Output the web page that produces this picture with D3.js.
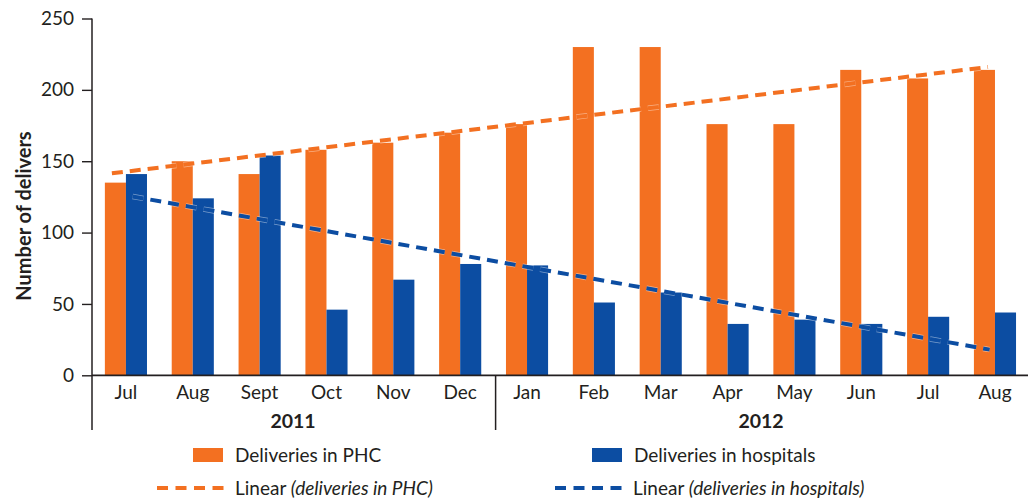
<!DOCTYPE html>
<html>
<head>
<meta charset="utf-8">
<script src="https://cdn.jsdelivr.net/npm/d3@7"></script>
<style>
  html, body { margin: 0; padding: 0; background: #fff; }
  svg { display: block; font-family: "Lato", "Open Sans", sans-serif; }
</style>
</head>
<body>
<svg id="chart" width="1031" height="500"></svg>
<script>
// Monthly deliveries, Jul 2011 – Aug 2012
const months = ["Jul", "Aug", "Sept", "Oct", "Nov", "Dec", "Jan", "Feb", "Mar", "Apr", "May", "Jun", "Jul", "Aug"];
const years = [
  { label: "2011", from: 0, to: 5 },
  { label: "2012", from: 6, to: 13 }
];
const phcDeliveries = [135, 150, 141, 158, 163, 170, 176, 230, 230, 176, 176, 214, 208, 214];
const hospitalDeliveries = [141, 124, 154, 46, 67, 78, 77, 51, 58, 36, 39, 36, 41, 44];
// Linear trend lines: value where each line starts and ends
const phcTrend = [141.5, 216];
const hospitalTrend = [125.3, 18];
const yTicks = [0, 50, 100, 150, 200, 250];

const ORANGE = "#f37021";
const BLUE = "#0c4da2";
const INK = "#231f20";
const FONT = "Lato, sans-serif";

const svg = d3.select("#chart");

const x = d3.scaleBand()
  .domain(d3.range(months.length))
  .range([92.5, 1028.4])
  .padding(0);
const step = x.step();
const barW = step * 0.315;
const cx = i => x(i) + step / 2;

const y = d3.scaleLinear().domain([0, 250]).range([375.3, 18.5]);

// Bars
const bars = svg.append("g");
bars.selectAll("rect.phc")
  .data(phcDeliveries)
  .join("rect")
  .attr("class", "phc")
  .attr("x", (d, i) => cx(i) - barW)
  .attr("y", d => y(d))
  .attr("width", barW)
  .attr("height", d => y(0) - y(d))
  .attr("fill", ORANGE);
bars.selectAll("rect.hosp")
  .data(hospitalDeliveries)
  .join("rect")
  .attr("class", "hosp")
  .attr("x", (d, i) => cx(i))
  .attr("y", d => y(d))
  .attr("width", barW)
  .attr("height", d => y(0) - y(d))
  .attr("fill", BLUE);

// Trend lines (dashed), each spanning its own series
const last = months.length - 1;
function trend(vals, color, f0, f1) {
  const pts = [[x(0) + f0 * step, y(vals[0])], [x(last) + f1 * step, y(vals[1])]];
  const line = d3.line();
  svg.append("path").attr("d", line(pts))
    .attr("stroke", "#fff").attr("stroke-opacity", 0.45)
    .attr("stroke-width", 5.5).attr("stroke-dasharray", "11,7")
    .attr("fill", "none");
  svg.append("path").attr("d", line(pts))
    .attr("stroke", color).attr("stroke-width", 4)
    .attr("stroke-dasharray", "11,7").attr("fill", "none");
}
trend(phcTrend, ORANGE, 0.29, 0.395);
trend(hospitalTrend, BLUE, 0.60, 0.42);

// Y axis
const yAxis = svg.append("g")
  .attr("transform", "translate(92,0)")
  .call(d3.axisLeft(y).tickValues(yTicks).tickSize(10).tickPadding(8));
yAxis.select(".domain").remove();
yAxis.selectAll(".tick line").attr("stroke", INK).attr("stroke-width", 1.4);
yAxis.selectAll(".tick text")
  .attr("fill", INK).attr("font-size", 19).attr("font-family", FONT);

svg.append("line")
  .attr("x1", 92).attr("x2", 92).attr("y1", y(250)).attr("y2", 430)
  .attr("stroke", INK).attr("stroke-width", 1.5);

// X axis
const xAxis = svg.append("g")
  .attr("transform", `translate(0,${y(0)})`)
  .call(d3.axisBottom(x).tickFormat(i => months[i]).tickSize(0).tickPadding(10));
xAxis.select(".domain").remove();
xAxis.selectAll(".tick text")
  .attr("fill", INK).attr("font-size", 19).attr("font-family", FONT);

svg.append("line")
  .attr("x1", 92).attr("x2", 1028).attr("y1", y(0)).attr("y2", y(0))
  .attr("stroke", INK).attr("stroke-width", 1.8);

// Year groups
svg.append("line")
  .attr("x1", x(years[1].from) + 2).attr("x2", x(years[1].from) + 2)
  .attr("y1", y(0)).attr("y2", 430)
  .attr("stroke", INK).attr("stroke-width", 1.5);
svg.selectAll("text.year")
  .data(years)
  .join("text")
  .attr("class", "year")
  .attr("x", d => (x(d.from) + x(d.to) + step) / 2)
  .attr("y", 428)
  .attr("text-anchor", "middle")
  .attr("font-weight", "bold")
  .attr("font-size", 19.5)
  .attr("fill", INK)
  .text(d => d.label);

// Y axis title
svg.append("text")
  .attr("transform", "translate(31,216) rotate(-90)")
  .attr("text-anchor", "middle")
  .attr("font-weight", "bold")
  .attr("font-size", 20)
  .attr("fill", INK)
  .text("Number of delivers");

// Legend
const legend = [
  { kind: "rect", color: ORANGE, x: 193, y: 455, text: [["Deliveries in PHC", "normal"]] },
  { kind: "rect", color: BLUE, x: 592, y: 455, text: [["Deliveries in hospitals", "normal"]] },
  { kind: "line", color: ORANGE, x: 157, y: 488, text: [["Linear ", "normal"], ["(deliveries in PHC)", "italic"]] },
  { kind: "line", color: BLUE, x: 555, y: 488, text: [["Linear ", "normal"], ["(deliveries in hospitals)", "italic"]] }
];
legend.forEach(d => {
  let tx;
  if (d.kind === "rect") {
    svg.append("rect").attr("x", d.x).attr("y", d.y - 7).attr("width", 30).attr("height", 14).attr("fill", d.color);
    tx = d.x + 42;
  } else {
    svg.append("line").attr("x1", d.x).attr("x2", d.x + 67).attr("y1", d.y).attr("y2", d.y)
      .attr("stroke", d.color).attr("stroke-width", 4).attr("stroke-dasharray", "11,7.5");
    tx = d.x + 78;
  }
  const t = svg.append("text").attr("x", tx).attr("y", d.y + 7)
    .attr("font-size", 19).attr("fill", INK);
  d.text.forEach(([s, style]) => t.append("tspan").attr("font-style", style).text(s));
});
</script>
</body>
</html>
